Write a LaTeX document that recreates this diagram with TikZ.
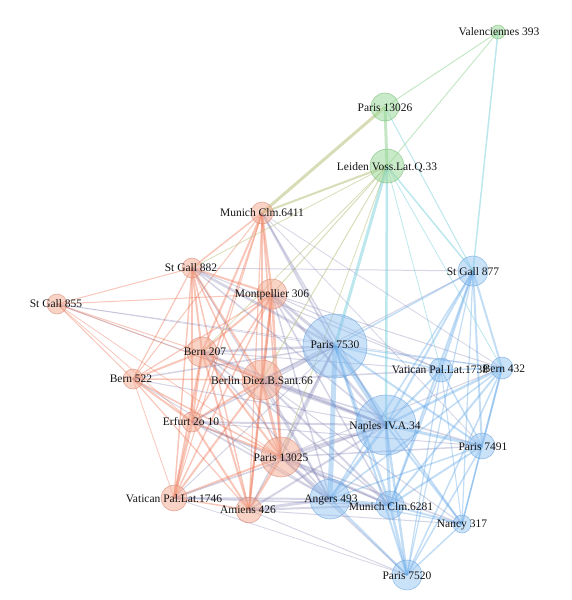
\documentclass[tikz,border=0pt]{standalone}
\usepackage{fontspec}
\setmainfont{Liberation Serif}
\definecolor{coo}{RGB}{236,108,72}
\definecolor{cbb}{RGB}{72,152,226}
\definecolor{cob}{RGB}{124,124,176}
\definecolor{cgo}{RGB}{178,186,112}
\definecolor{cgb}{RGB}{104,202,214}
\definecolor{cgg}{RGB}{150,212,150}
\definecolor{ofill}{RGB}{243,168,142}
\definecolor{odraw}{RGB}{212,128,108}
\definecolor{bfill}{RGB}{138,190,240}
\definecolor{bdraw}{RGB}{98,158,220}
\definecolor{gfill}{RGB}{148,214,148}
\definecolor{gdraw}{RGB}{108,184,108}
\definecolor{labc}{RGB}{20,20,20}
\tikzset{
  eoo/.style={draw=coo, draw opacity=0.38},
  ebb/.style={draw=cbb, draw opacity=0.33},
  eob/.style={draw=cob, draw opacity=0.32},
  ego/.style={draw=cgo, draw opacity=0.5},
  egb/.style={draw=cgb, draw opacity=0.45},
  egg/.style={draw=cgg, draw opacity=0.55},
  onode/.style={circle, inner sep=0pt, fill=ofill, fill opacity=0.5, draw=odraw, draw opacity=0.6, line width=0.6pt},
  bnode/.style={circle, inner sep=0pt, fill=bfill, fill opacity=0.45, draw=bdraw, draw opacity=0.6, line width=0.6pt},
  gnode/.style={circle, inner sep=0pt, fill=gfill, fill opacity=0.5, draw=gdraw, draw opacity=0.6, line width=0.6pt},
  lab/.style={text=labc, inner sep=0pt, font=\fontsize{11.5}{12}\selectfont}
}
\begin{document}
\begin{tikzpicture}[x=1pt,y=-1pt]
\useasboundingbox (0,0) rectangle (571,600);
% node centres
\coordinate (va) at (498,32);
\coordinate (p26) at (385,107);
\coordinate (lei) at (387,166);
\coordinate (m64) at (262,213);
\coordinate (sg882) at (192,268);
\coordinate (sg855) at (57,304);
\coordinate (mon) at (272,294);
\coordinate (b207) at (202,352);
\coordinate (b522) at (133,379);
\coordinate (ber) at (262,380);
\coordinate (erf) at (192,422);
\coordinate (p25) at (281,457);
\coordinate (v46) at (174,498);
\coordinate (ami) at (249,510);
\coordinate (p30) at (335,346);
\coordinate (sg877) at (473,271);
\coordinate (v38) at (441,370);
\coordinate (b432) at (502,368);
\coordinate (nap) at (386,425);
\coordinate (p91) at (482,446);
\coordinate (ang) at (330,499);
\coordinate (m81) at (390,505);
\coordinate (nan) at (462,524);
\coordinate (p20) at (407,575);
% orange-orange edges
\foreach \a/\b/\w in {m64/sg882/1.5, m64/mon/2.2, m64/b207/2, m64/ber/2.6, m64/erf/1.5, m64/p25/1.6, m64/v46/1, m64/ami/1.2, m64/b522/1,
  sg882/sg855/1, sg882/mon/2, sg882/b207/2, sg882/b522/1.2, sg882/ber/2, sg882/erf/2, sg882/p25/1.5, sg882/v46/1.5, sg882/ami/1.5,
  sg855/mon/1, sg855/b207/1, sg855/b522/1, sg855/ber/1, sg855/erf/0.8, sg855/p25/0.8,
  mon/b207/2, mon/b522/1.2, mon/ber/2.6, mon/erf/1.5, mon/p25/2.6, mon/v46/1.5, mon/ami/2,
  b207/b522/2, b207/ber/2.6, b207/erf/2, b207/p25/2, b207/v46/2, b207/ami/2,
  b522/ber/1.5, b522/erf/2, b522/p25/1.5, b522/v46/0.8, b522/ami/1.2,
  ber/erf/2, ber/p25/3, ber/v46/2, ber/ami/2, erf/p25/2, erf/v46/2.6, erf/ami/2,
  p25/v46/2, p25/ami/2.6, v46/ami/1.5}
  \draw[eoo, line width=\w pt] (\a) -- (\b);
% orange-blue edges
\foreach \a/\b/\w in {m64/p30/2, m64/nap/1.5, m64/b432/0.8, m64/p91/0.8, sg882/sg877/1, sg882/p30/2.6, sg882/nap/1.5, sg882/ang/1, sg882/v38/1,
  sg855/p30/0.8, sg855/b432/0.7, sg855/nap/0.8,
  mon/p30/3, mon/nap/2.5, mon/b432/1, mon/v38/1, mon/ang/1.5, mon/m81/1.5,
  b207/p30/2.5, b207/nap/2, b207/ang/1.5, b207/m81/1.5, b207/v38/1,
  b522/p30/1.5, b522/nap/1, b522/ang/1,
  ber/p30/3, ber/nap/3, ber/ang/2, ber/m81/2, ber/p91/1.5, ber/v38/1.5, ber/sg877/1, ber/nan/1,
  erf/p30/1.5, erf/nap/2, erf/ang/1.5, erf/m81/1.5, erf/p91/1,
  p25/p30/2.5, p25/nap/3, p25/ang/3, p25/m81/2.5, p25/p91/1.5, p25/nan/1.5, p25/p20/1.5, p25/b432/1,
  v46/ang/2, v46/m81/1.5, v46/p20/0.8, v46/nap/1.5, v46/p30/1,
  ami/ang/3, ami/m81/2, ami/p20/1, ami/nap/2, ami/p30/1.5, ami/nan/1}
  \draw[eob, line width=\w pt] (\a) -- (\b);
% blue-blue edges
\foreach \a/\b/\w in {p30/nap/4, p30/ang/5, p30/m81/2.5, p30/sg877/1.5, p30/v38/1.5, p30/b432/1.2, p30/p91/2, p30/nan/1.5, p30/p20/2,
  nap/ang/3, nap/m81/3, nap/sg877/2, nap/v38/2, nap/b432/2.5, nap/p91/3, nap/nan/2, nap/p20/2.5,
  ang/m81/2.5, ang/sg877/1.5, ang/p20/2, ang/p91/1.5, ang/b432/1.5, ang/nan/1.2,
  m81/sg877/2, m81/v38/1.5, m81/b432/2, m81/p91/2, m81/nan/2, m81/p20/2.5,
  sg877/v38/2, sg877/b432/2, sg877/p91/2, sg877/nan/1.2, sg877/p20/1.2,
  v38/b432/1.5, v38/p91/1.5, v38/nan/1, v38/p20/1.2,
  b432/p91/2, b432/nan/1.5, b432/p20/1.5, p91/nan/1.5, p91/p20/1.5, nan/p20/1.5}
  \draw[ebb, line width=\w pt] (\a) -- (\b);
% green edges
\foreach \a/\b/\w in {p26/m64/3, lei/m64/2, lei/mon/1, lei/b207/0.8, lei/ber/1, lei/sg882/0.8, lei/p25/0.8}
  \draw[ego, line width=\w pt] (\a) -- (\b);
\foreach \a/\b/\w in {lei/p30/3, lei/nap/2.5, lei/sg877/1.5, p26/sg877/1, va/sg877/1.5, lei/v38/0.8, lei/b432/0.8}
  \draw[egb, line width=\w pt] (\a) -- (\b);
\foreach \a/\b/\w in {va/p26/1, va/lei/1, p26/lei/3}
  \draw[egg, line width=\w pt] (\a) -- (\b);
% circles
\foreach \n/\r in {m64/11, sg882/10, sg855/10, mon/15, b207/15, b522/10, ber/20, erf/10, p25/20, v46/13, ami/13}
  \node[onode, minimum size=2*\r pt] (\n-c) at (\n) {};
\foreach \n/\r in {p30/32, sg877/15, v38/12, b432/11, nap/30, p91/13, ang/20, m81/14, nan/9, p20/15}
  \node[bnode, minimum size=2*\r pt] (\n-c) at (\n) {};
\foreach \n/\r in {va/7, p26/14, lei/17}
  \node[gnode, minimum size=2*\r pt] (\n-c) at (\n) {};
% labels
\node[lab] (va-l) at (499,32) {Valenciennes 393};
\node[lab] (p26-l) at (385,108) {Paris 13026};
\node[lab] (lei-l) at (387,167) {Leiden Voss.Lat.Q.33};
\node[lab] (m64-l) at (262,213) {Munich Clm.6411};
\node[lab] (sg882-l) at (191,268) {St Gall 882};
\node[lab] (sg855-l) at (56,304) {St Gall 855};
\node[lab] (mon-l) at (272,295) {Montpellier 306};
\node[lab] (b207-l) at (205,352) {Bern 207};
\node[lab] (b522-l) at (131,379) {Bern 522};
\node[lab] (ber-l) at (262,381) {Berlin Diez.B.Sant.66};
\node[lab] (erf-l) at (191,422) {Erfurt 2o 10};
\node[lab] (p25-l) at (281,458) {Paris 13025};
\node[lab] (v46-l) at (174,499) {Vatican Pal.Lat.1746};
\node[lab] (ami-l) at (248,510) {Amiens 426};
\node[lab] (p30-l) at (335,345) {Paris 7530};
\node[lab] (sg877-l) at (473,272) {St Gall 877};
\node[lab] (v38-l) at (440,370) {Vatican Pal.Lat.1738};
\node[lab] (b432-l) at (504,369) {Bern 432};
\node[lab] (nap-l) at (385,427) {Naples IV.A.34};
\node[lab] (p91-l) at (483,447) {Paris 7491};
\node[lab] (ang-l) at (331,500) {Angers 493};
\node[lab] (m81-l) at (391,507) {Munich Clm.6281};
\node[lab] (nan-l) at (462,525) {Nancy 317};
\node[lab] (p20-l) at (407,576) {Paris 7520};
\end{tikzpicture}
\end{document}
